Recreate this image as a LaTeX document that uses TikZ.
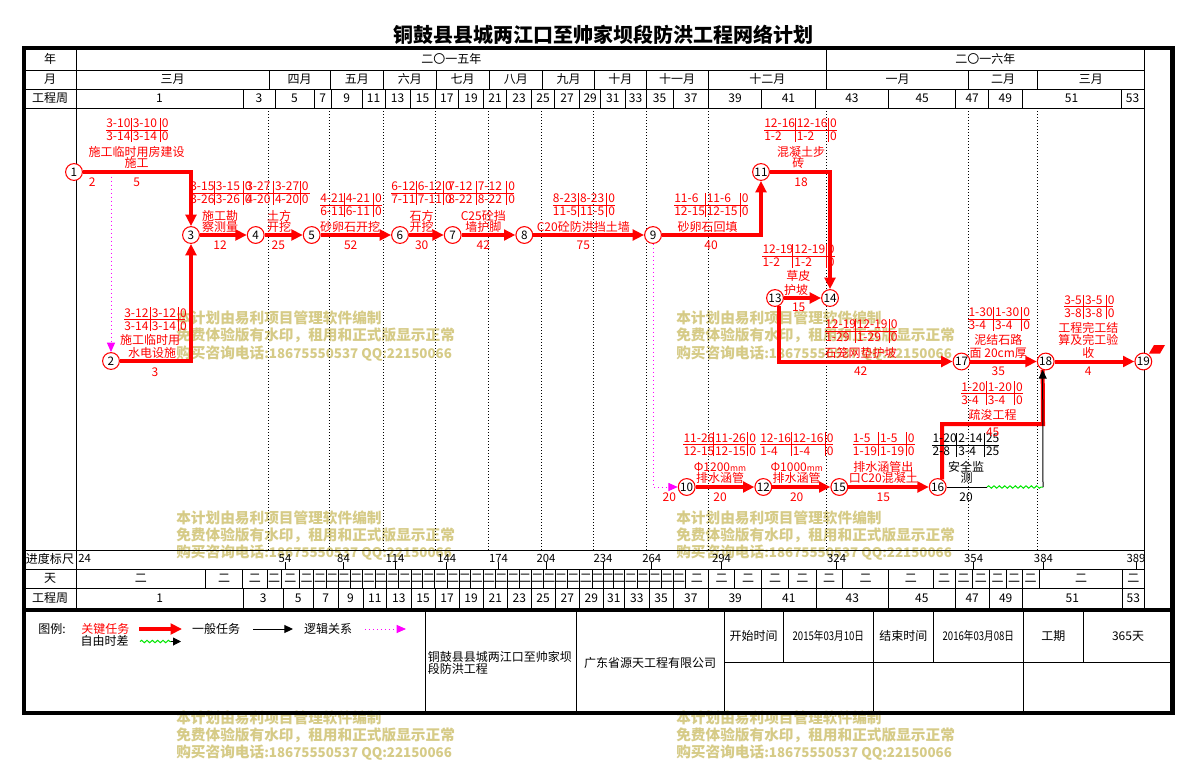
\documentclass[tikz,border=0pt]{standalone}
\usepackage{fontspec}
\usepackage{graphicx}
\setmainfont{Noto Sans CJK SC}
\usetikzlibrary{arrows.meta,decorations.pathmorphing}
\definecolor{wmc}{RGB}{214,203,135}
\definecolor{magc}{RGB}{255,0,255}
\definecolor{grnc}{RGB}{0,230,0}
\newcommand\fsz[1]{\fontsize{#1pt}{#1pt}\selectfont}
\newcount\lblc
\newcommand\lb[4][red]{\global\advance\lblc by 1\relax
  \node[lbl,text=#1] (lb\the\lblc) at (#2,#3) {#4};}
\newcommand\tw[4]{\global\advance\lblc by 1\relax
  \node[lbl,anchor=west,text=#1] (lb\the\lblc) at (#2,#3) {#4};}
\newcommand\ttab[6]{\def\Txl{#1}\def\Tva{#2}\def\Tvb{#3}\def\Tym{#5}\def\Tcol{#6}%
  \draw[draw=#6,line width=0.75pt] (#1,#5) -- (#4,#5);
  \draw[draw=#6,line width=0.75pt] (#2,#5-12) -- (#2,#5+12);
  \draw[draw=#6,line width=0.75pt] (#3,#5-12) -- (#3,#5+12);
  \ttabtxt}
\newcommand\ttabtxt[6]{%
  \tw{\Tcol}{\Txl}{\Tym-6.5}{#1}\tw{\Tcol}{\Tva+1.5}{\Tym-6.5}{#2}\tw{\Tcol}{\Tvb+1.5}{\Tym-6.5}{#3}%
  \tw{\Tcol}{\Txl}{\Tym+6.5}{#4}\tw{\Tcol}{\Tva+1.5}{\Tym+6.5}{#5}\tw{\Tcol}{\Tvb+1.5}{\Tym+6.5}{#6}}
\newcommand\wmk[2]{\global\advance\lblc by 1\relax
  \node[wm] (wa\the\lblc) at (#1,#2) {本计划由易利项目管理软件编制};
  \node[wm] (wb\the\lblc) at (#1,#2+17.5) {免费体验版有水印，租用和正式版显示正常};
  \node[wm] (wc\the\lblc) at (#1,#2+35.5) {购买咨询电话{\fsz{10}:18675550537 QQ:22150066}};}
\begin{document}
\begin{tikzpicture}[x=0.75pt,y=-0.75pt,
  lbl/.style={inner sep=0pt,text height=0.8em,text depth=0.15em,font=\fsz{9}},
  hd/.style={inner sep=0pt,text height=0.8em,text depth=0.15em,font=\fsz{9},text=black},
  wm/.style={anchor=west,inner sep=0pt,font=\fsz{11}\bfseries,text=wmc},
  nd/.style={circle,draw=red,line width=0.8pt,fill=white,minimum size=12.6pt,inner sep=0pt,font=\fsz{8.8},text=black},
  crit/.style={draw=red,line width=3pt,-{Triangle[length=8.5pt,width=8pt]}},
  critn/.style={draw=red,line width=3pt},
  gen/.style={draw=black,line width=0.75pt},
  dum/.style={draw=magc,line width=0.75pt,dash pattern=on 0.75pt off 2.25pt,-{Triangle[length=7pt,width=6pt]}},
  wav/.style={draw=grnc,line width=0.75pt,decorate,decoration={snake,amplitude=0.9pt,segment length=4pt}},
  dotl/.style={draw=black,line width=0.75pt,dash pattern=on 0.75pt off 1.5pt},
  grid/.style={draw=black,line width=0.75pt}]
\useasboundingbox (0,0) rectangle (1202,760);
\fill[white] (0,0) rectangle (1202,760);
% watermarks
\wmk{176}{318}\wmk{676}{318}\wmk{176}{517.5}\wmk{676}{517.5}\wmk{176}{717.5}\wmk{676}{717.5}
% title
\node[inner sep=0pt,font=\fsz{15}\bfseries] (title) at (603,35) {铜鼓县县城两江口至帅家坝段防洪工程网络计划};
% grid rows
\foreach \y in {70,89,108,550,569,588} {\draw[grid] (24,\y) -- (1144,\y);}
\draw[grid] (76,48) -- (76,609.5);
\draw[grid] (1144,48) -- (1144,609.5);
\draw[grid] (826.5,48) -- (826.5,70);
\node[hd] (hy) at (50,59) {年};
\node[hd] (hm) at (50,79.5) {月};
\node[hd] (hw) at (50,98.5) {工程周};
\node[hd] (hp) at (50,559.5) {进度标尺};
\node[hd] (hd) at (50,578.5) {天};
\node[hd] (hw2) at (50,598) {工程周};
\node[hd] (y15) at (451.3,59) {二〇一五年};
\node[hd] (y16) at (985.3,59) {二〇一六年};
\foreach \a/\b/\t [count=\i] in {76/269/三月,269/330/四月,330/383.5/五月,383.5/436/六月,436/489/七月,489/542.5/八月,542.5/594.5/九月,594.5/646/十月,646/708/十一月,708/826.5/十二月,826.5/968.5/一月,968.5/1037.5/二月,1037.5/1144/三月}
  {\draw[grid] (\b,70) -- (\b,89); \node[hd] (m\i) at ({(\a+\b)/2},79.5) {\t};}
\foreach \a/\b/\t in {76/243/1,243/275/3,275/314/5,314/331.5/7,331.5/362/9,362/385/11,385/410/13,410/435/15,435/458.5/17,458.5/483.5/19,483.5/506.5/21,506.5/531.5/23,531.5/554.6/25,554.6/579.6/27,579.6/600.8/29,600.8/625/31,625/646/33,646/673/35,673/708.5/37,708.5/761.5/39,761.5/815.4/41,815.4/888.5/43,888.5/955.8/45,955.8/988.5/47,988.5/1022/49,1022/1121/51,1121/1144/53}
  {\draw[grid] (\b,89) -- (\b,108); \node[hd] (wt\t) at ({(\a+\b)/2},98.5) {\t};}
\foreach \a/\b/\t in {76/243.5/1,243.5/283/3,283/313.5/5,313.5/338/7,338/363/9,363/386.7/11,386.7/411/13,411/435/15,435/459/17,459/483/19,483/507.5/21,507.5/531/23,531/555/25,555/579.5/27,579.5/603/29,603/624.6/31,624.6/649/33,649/673/35,673/708.7/37,708.7/761.7/39,761.7/816/41,816/888.6/43,888.6/955/45,955/989.4/47,989.4/1022/49,1022/1122.7/51,1122.7/1144/53}
  {\draw[grid] (\b,588) -- (\b,609.5); \node[hd] (wb\t) at ({(\a+\b)/2},598) {\t};}
\foreach \a/\b [count=\i] in {76/205.6,205.6/242.7,242.7/267,267/281,281/299.5,299.5/313.5,313.5/326.8,326.8/338,338/350,350/362.8,362.8/375,375/386.7,386.7/398.8,398.8/411,411/422.7,422.7/434.8,434.8/447,447/459,459/470.8,470.8/483,483/495,495/507.5,507.5/519,519/531,531/543.5,543.5/555,555/567,567/579.5,579.5/592,592/603,603/613,613/624.6,624.6/637,637/649,649/661,661/673,673/685,685/708.7,708.7/734.5,734.5/761.7,761.7/788.6,788.6/816,816/842.4,842.4/888.6,888.6/933.3,933.3/955,955/972.3,972.3/989.4,989.4/1006,1006/1022,1022/1039.4,1039.4/1122.7,1122.7/1144}
  {\draw[grid] (\b,569) -- (\b,588); \node[hd] (dy\i) at ({(\a+\b)/2},578.5) {二};}
\node[hd,anchor=west,font=\fsz{8.5}] (ps24) at (78,558.5) {24};
\foreach \x/\t in {285/54,343.5/84,395/114,446.7/144,498.5/174,546/204,603/234,651.7/264,721.5/294,836.6/324,973.6/354,1043.4/384,1136/389}
  {\draw[grid] (\x,562) -- (\x,569); \node[hd,font=\fsz{8.5}] (ps\t) at (\x,558.5) {\t};}
% dotted month lines
\foreach \x in {268,329.5,383,435.5,488.5,541.5,593,646,708,826,968,1037}
  {\draw[dotl] (\x,108) -- (\x,550);}
% nodes
\node[nd] (n1) at (74,172) {1};
\node[nd] (n2) at (111,361) {2};
\node[nd] (n3) at (191,235) {3};
\node[nd] (n4) at (255.7,235) {4};
\node[nd] (n5) at (311.7,235) {5};
\node[nd] (n6) at (400,235) {6};
\node[nd] (n7) at (452.7,235) {7};
\node[nd] (n8) at (524.3,235) {8};
\node[nd] (n9) at (653,235) {9};
\node[nd] (n11) at (761,172) {11};
\node[nd] (n13) at (775,298) {13};
\node[nd] (n14) at (830,298) {14};
\node[nd] (n17) at (961.5,361.5) {17};
\node[nd] (n18) at (1045.7,361.5) {18};
\node[nd] (n19) at (1143.3,361.5) {19};
\node[nd] (n10) at (686.7,487) {10};
\node[nd] (n12) at (763.3,487) {12};
\node[nd] (n15) at (839.3,487) {15};
\node[nd] (n16) at (937.7,487) {16};
\coordinate (d1) at (111,176.5);
\coordinate (k1) at (1043,424);
\coordinate (k2) at (987,487);
\coordinate (k3) at (1043,487);
% connectors
\draw[dum] (d1) -- (n2);
\draw[dum] (n9) |- (n10);
\draw[crit] (n1) -| (n3);
\draw[crit] (n2) -| (n3);
\draw[crit] (n3) -- (n4);
\draw[crit] (n4) -- (n5);
\draw[crit] (n5) -- (n6);
\draw[crit] (n6) -- (n7);
\draw[crit] (n7) -- (n8);
\draw[crit] (n8) -- (n9);
\draw[crit] (n9) -| (n11);
\draw[crit] (n11) -| (n14);
\draw[crit] (n13) -- (n14);
\draw[crit] (n13.-60) |- (n17);
\draw[crit] (n17) -- (n18);
\draw[crit] (n18) -- (n19);
\draw[crit] (n10) -- (n12);
\draw[crit] (n12) -- (n15);
\draw[crit] (n15) -- (n16);
\draw[critn] (n16.60) |- (k1) -- (n18.-110);
\draw[gen] (n16) -- (k2);
\draw[wav] (k2) -- (k3);
\draw[gen,-{Triangle[length=6.5pt,width=6pt]}] (k3) -- (n18.-110);
\fill[red] (1149,353.5) -- (1154,345) -- (1165,345) -- (1160,353.5) -- cycle;
% time tables
\ttab{106}{131}{160}{168}{130}{red}{3-10}{3-10}{0}{3-14}{3-14}{0}
\ttab{124}{150}{178.3}{185}{319.3}{red}{3-12}{3-12}{0}{3-14}{3-14}{0}
\ttab{190}{214}{243}{250}{193}{red}{3-15}{3-15}{0}{3-26}{3-26}{0}
\ttab{246}{273.3}{300}{310}{193}{red}{3-27}{3-27}{0}{4-20}{4-20}{0}
\ttab{320}{344}{373.3}{382}{205}{red}{4-21}{4-21}{0}{6-11}{6-11}{0}
\ttab{391}{416}{443.3}{451}{193}{red}{6-12}{6-12}{0}{7-11}{7-11}{0}
\ttab{448}{476}{506.7}{514}{193}{red}{7-12}{7-12}{0}{8-22}{8-22}{0}
\ttab{552.7}{578.3}{606.7}{615}{205}{red}{8-23}{8-23}{0}{11-5}{11-5}{0}
\ttab{674}{705}{740}{748.3}{205}{red}{11-6}{11-6}{0}{12-15}{12-15}{0}
\ttab{764}{795}{828.3}{837}{130}{red}{12-16}{12-16}{0}{1-2}{1-2}{0}
\ttab{762.3}{792.7}{826}{835}{256}{red}{12-19}{12-19}{0}{1-2}{1-2}{0}
\ttab{825}{855}{889}{897.3}{331}{red}{12-19}{12-19}{0}{1-29}{1-29}{0}
\ttab{968.3}{993.3}{1021.7}{1030}{319}{red}{1-30}{1-30}{0}{3-4}{3-4}{0}
\ttab{1064}{1083.3}{1106}{1113.3}{306.7}{red}{3-5}{3-5}{0}{3-8}{3-8}{0}
\ttab{683.3}{713.3}{747.7}{756}{444.3}{red}{11-26}{11-26}{0}{12-15}{12-15}{0}
\ttab{760}{791}{825}{833.3}{444.3}{red}{12-16}{12-16}{0}{1-4}{1-4}{0}
\ttab{852.7}{878.3}{906}{915}{444.3}{red}{1-5}{1-5}{0}{1-19}{1-19}{0}
\ttab{961}{986}{1014.3}{1022.7}{393.3}{red}{1-20}{1-20}{0}{3-4}{3-4}{0}
\ttab{932.3}{956.7}{984.3}{999.3}{445}{black}{1-20}{2-14}{25}{2-8}{3-4}{25}
% activity names and durations
\lb{136.7}{152.3}{施工临时用房建设}\lb{136.7}{163.3}{施工}\lb{136.7}{182}{5}\lb{92.3}{182}{2}
\lb{150}{340}{施工临时用}\lb{152}{353}{水电设施}\lb{155}{371.7}{3}
\lb{220}{216}{施工勘}\lb{220}{226.7}{察测量}\lb{220}{245}{12}
\lb{279}{216}{土方}\lb{279}{226.7}{开挖}\lb{278.3}{245}{25}
\lb{350}{226.7}{砂卵石开挖}\lb{350.7}{245}{52}
\lb{421.7}{216}{石方}\lb{421.7}{226.7}{开挖}\lb{421.7}{245}{30}
\lb{483.3}{216}{C25砼挡}\lb{483.3}{226.7}{墙护脚}\lb{483.3}{245}{42}
\lb{583.3}{226.7}{C20砼防洪挡土墙}\lb{583.3}{245}{75}
\lb{707.7}{226.7}{砂卵石回填}\lb{711}{245}{40}
\lb{801}{152.3}{混凝土步}\lb{798.3}{163.3}{砖}\lb{801}{181.7}{18}
\lb{798.3}{275.7}{草皮}\lb{796}{290}{护坡}\lb{798.7}{306.7}{15}
\lb{860.7}{352.7}{石笼网垫护坡}\lb{860.7}{371}{42}
\lb{998.3}{340}{泥结石路}\lb{998.3}{352.7}{面 20cm厚}\lb{998.3}{371}{35}
\lb{1088.3}{328.3}{工程完工结}\lb{1088.3}{340}{算及完工验}\lb{1088.3}{352.7}{收}\lb{1088.3}{371}{4}
\lb{720}{467.3}{Φ1200{\fsz{6.5}mm}}\lb{720}{478.3}{排水涵管}\lb{720}{496.7}{20}
\lb{796.7}{467.3}{Φ1000{\fsz{6.5}mm}}\lb{796.7}{478.3}{排水涵管}\lb{796.7}{496.7}{20}
\lb{883.3}{467.3}{排水涵管出}\lb{883.3}{478.3}{口C20混凝土}\lb{883.3}{496.7}{15}
\lb{992.7}{415}{疏浚工程}\lb{992.7}{431.7}{45}
\lb[black]{966}{466.7}{安全监}\lb[black]{966.7}{477.7}{测}\lb[black]{966}{496.7}{20}
\lb{669.3}{496.7}{20}
% legend
\node[hd] (lg0) at (52,629) {图例:};
\lb{105.4}{629}{关键任务}
\coordinate (la1) at (139,629); \coordinate (la2) at (182,629);
\draw[crit] (la1) -- (la2);
\node[hd] (lg1) at (216,629) {一般任务};
\coordinate (lb1) at (253,629); \coordinate (lb2) at (293,629);
\draw[gen,-{Triangle[length=6.5pt,width=6pt]}] (lb1) -- (lb2);
\node[hd] (lg2) at (328,629) {逻辑关系};
\coordinate (lc1) at (365,629); \coordinate (lc2) at (406,629);
\draw[dum] (lc1) -- (lc2);
\node[hd] (lg3) at (104.5,641.5) {自由时差};
\coordinate (ld1) at (140,641.5); \coordinate (ld2) at (171,641.5); \coordinate (ld3) at (181,641.5);
\draw[wav] (ld1) -- (ld2);
\draw[gen,-{Triangle[length=6pt,width=6pt]}] (ld2) -- (ld3);
% info block
\draw[grid] (425,609.5) -- (425,713);
\draw[grid] (576,609.5) -- (576,713);
\draw[grid] (724,609.5) -- (724,713);
\draw[grid] (873.3,609.5) -- (873.3,713);
\draw[grid] (1023.3,609.5) -- (1023.3,713);
\draw[grid] (724,662.3) -- (1172.5,662.3);
\foreach \x in {783.3,933.3,1083.3} {\draw[grid] (\x,609.5) -- (\x,662.3);}
\node[hd,anchor=west] (pj1) at (427.5,657.5) {铜鼓县县城两江口至帅家坝};
\node[hd,anchor=west] (pj2) at (427.5,669.5) {段防洪工程};
\node[hd] (co) at (650,663.3) {广东省源天工程有限公司};
\node[hd] (i1) at (753.5,636) {开始时间};
\node[hd] (i2) at (828.3,636.5) {\scalebox{0.8}[1]{2015年03月10日}};
\node[hd] (i3) at (903.3,636) {结束时间};
\node[hd] (i4) at (978.3,636.5) {\scalebox{0.8}[1]{2016年03月08日}};
\node[hd] (i5) at (1053.3,636) {工期};
\node[hd] (i6) at (1128,636.5) {365天};
% outer frame
\draw[line width=3pt] (24,609.5) -- (1172.5,609.5);
\draw[line width=3.6pt] (24,48) rectangle (1172.5,713);
\end{tikzpicture}
\end{document}
